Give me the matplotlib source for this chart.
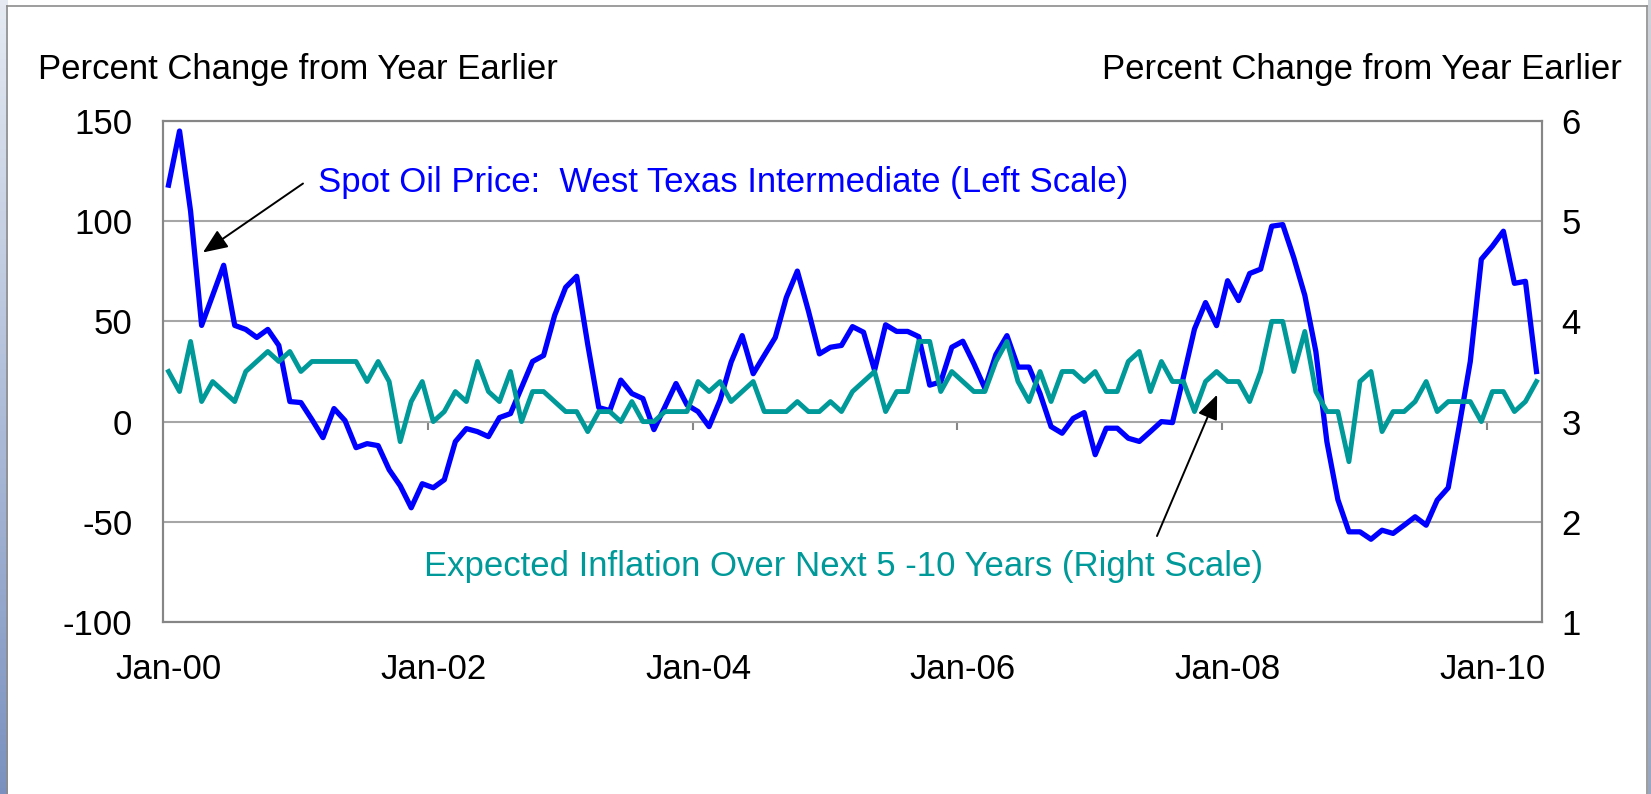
import numpy as np
import matplotlib
matplotlib.use("Agg")
from matplotlib import pyplot as plt
from matplotlib.lines import Line2D

plt.rcParams['font.family'] = ['Liberation Sans', 'DejaVu Sans']
plt.rcParams['axes.unicode_minus'] = False

# monthly, Jan-2000 .. May-2010
oil_yoy = [118, 145, 105, 48, 63, 78, 48, 46, 42, 46, 38, 10, 9.5, 1, -8, 6.5, 0.5, -13, -11, -12,
           -24, -32, -43, -31, -33, -29, -10, -3.5, -5, -7.5, 2, 4, 17, 30, 33, 53, 67, 72.5, 38.5, 7,
           5.5, 20.7, 14, 11.5, -4, 7.4, 19, 8.3, 5, -2.5, 10.7, 29.7, 42.9, 23.9, 33, 42, 61.9, 75.1, 55.3, 33.8,
           37.1, 38, 47.4, 44.6, 25.6, 48.3, 45, 45, 42.4, 18.2, 19.8, 37.1, 40.1, 28.9, 16.6, 33.5, 42.9, 27.2, 27.2, 14,
           -2.5, -5.8, 1.6, 4.5, -16.5, -3.3, -3.3, -8.3, -9.9, -5, 0, -0.5, 22.3, 46.2, 59.4, 47.9, 70.3, 60.4, 73.9, 76.1,
           97.5, 98.3, 81.8, 63, 35, -10, -39, -55, -55, -58.7, -54.2, -55.8, -51.7, -47.5, -51.7, -39.2, -33, -2, 30, 81,
           87.5, 95, 69, 70, 25]

infl_exp = [3.5, 3.3, 3.8, 3.2, 3.4, 3.3, 3.2, 3.5, 3.6, 3.7, 3.6, 3.7, 3.5, 3.6, 3.6, 3.6, 3.6, 3.6, 3.4, 3.6,
            3.4, 2.8, 3.2, 3.4, 3.0, 3.1, 3.3, 3.2, 3.6, 3.3, 3.2, 3.5, 3.0, 3.3, 3.3, 3.2, 3.1, 3.1, 2.9, 3.1,
            3.1, 3.0, 3.2, 3.0, 3.0, 3.1, 3.1, 3.1, 3.4, 3.3, 3.4, 3.2, 3.3, 3.4, 3.1, 3.1, 3.1, 3.2, 3.1, 3.1,
            3.2, 3.1, 3.3, 3.4, 3.5, 3.1, 3.3, 3.3, 3.8, 3.8, 3.3, 3.5, 3.4, 3.3, 3.3, 3.6, 3.8, 3.4, 3.2, 3.5,
            3.2, 3.5, 3.5, 3.4, 3.5, 3.3, 3.3, 3.6, 3.7, 3.3, 3.6, 3.4, 3.4, 3.1, 3.4, 3.5, 3.4, 3.4, 3.2, 3.5,
            4.0, 4.0, 3.5, 3.9, 3.3, 3.1, 3.1, 2.6, 3.4, 3.5, 2.9, 3.1, 3.1, 3.2, 3.4, 3.1, 3.2, 3.2, 3.2, 3.0,
            3.3, 3.3, 3.1, 3.2, 3.4]

tick_labels = ['Jan-00', 'Jan-02', 'Jan-04', 'Jan-06', 'Jan-08', 'Jan-10']

W, H = 1651, 794
BLUE = '#0000ff'
TEAL = '#009999'
BOX = '#868686'
FS = 25

fig = plt.figure(figsize=(W / 100, H / 100), dpi=100)

# slide background strips and frame
grad = np.linspace(0, 1, 256)[:, None, None]
top_c = np.array([0.90, 0.92, 0.95])
bot_c = np.array([0.48, 0.57, 0.75])
strip = fig.add_axes([0, 0, 7 / W, 1])
strip.imshow(top_c + grad * (bot_c - top_c), aspect='auto')
strip.axis('off')
rstrip = fig.add_axes([1648 / W, 0, 3 / W, 1])
rstrip.imshow(top_c * 0.9 + grad * (bot_c - top_c) * 0.5, aspect='auto')
rstrip.axis('off')
fig.add_artist(Line2D([7 / W, 7 / W], [0, 1 - 6 / H], color='#8c8c8c', lw=1.2))
fig.add_artist(Line2D([7 / W, 1647 / W], [1 - 6 / H, 1 - 6 / H], color='#8c8c8c', lw=1.2))
fig.add_artist(Line2D([1647 / W, 1647 / W], [0, 1 - 6 / H], color='#8c8c8c', lw=1.2))

x = np.arange(len(oil_yoy))

ax = fig.add_axes([163 / W, 1 - 622 / H, (1542 - 163) / W, (622 - 121) / H])
ax.plot(x, oil_yoy, color=BLUE, lw=3.8)
ax.set_xlim(-0.5, len(x) - 0.5)
ax.set_ylim(-100, 150)
ax.set_yticks(range(-100, 151, 50))
ax.yaxis.grid(True, color='#a6a6a6', lw=1.5)
ax.set_axisbelow(True)
ax.set_xticks(x[::24])
ax.set_xticklabels(tick_labels)
ax.tick_params(axis='y', length=0, pad=22, labelsize=FS)
ax.tick_params(axis='x', length=0, pad=22, labelsize=FS)
for sp in ax.spines.values():
    sp.set_color(BOX)
    sp.set_linewidth(1.5)

# small tick marks on the zero line, between categories
sec = ax.secondary_xaxis(0.4)
sec.set_xticks(np.arange(23.5, len(x), 24))
sec.tick_params(axis='x', length=6, width=1.5, color=BOX, direction='out', labelbottom=False, labeltop=False)
sec.spines['bottom'].set_visible(False)
sec.spines['top'].set_visible(False)

ax2 = ax.twinx()
ax2.plot(x, infl_exp, color=TEAL, lw=3.5)
ax2.set_ylim(1, 6)
ax2.set_yticks(range(1, 7))
ax2.tick_params(axis='y', length=0, pad=14, labelsize=FS)
for sp in ax2.spines.values():
    sp.set_color(BOX)
    sp.set_linewidth(1.5)

ax.text(13.57, 114.4, 'Spot Oil Price:  West Texas Intermediate (Left Scale)',
        color=BLUE, fontsize=FS, va='baseline')
ax.text(23.18, -77.1, 'Expected Inflation Over Next 5 -10 Years (Right Scale)',
        color=TEAL, fontsize=FS, va='baseline')

arrow = dict(arrowstyle='-|>,head_length=0.6,head_width=0.25', color='black', lw=1.4,
             mutation_scale=25, shrinkA=0, shrinkB=0)
ax.annotate('', xy=(3.12, 84.4), xytext=(12.19, 118.8), arrowprops=arrow)
ax.annotate('', xy=(95.05, 13.4), xytext=(89.6, -57.1), arrowprops=arrow)

fig.text(38 / W, 1 - 79 / H, 'Percent Change from Year Earlier', fontsize=FS, va='baseline')
fig.text(1622 / W, 1 - 79 / H, 'Percent Change from Year Earlier', fontsize=FS, va='baseline', ha='right')

fig.savefig('out.png', dpi=100)
